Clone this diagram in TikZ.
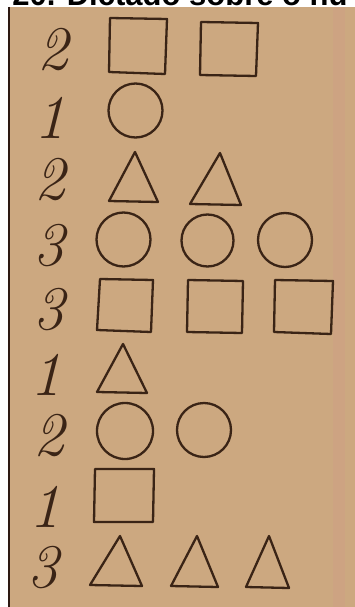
\documentclass[tikz,border=0pt]{standalone}
\usepackage{fontspec}
\newfontfamily\headfont{Liberation Sans}
\begin{document}
\begin{tikzpicture}[x=1pt,y=-1pt,
  ink/.style={draw=inkc,line width=2.3pt,line join=round,line cap=round},
  numeral/.style={text=inkc,font=\fontsize{62}{62}\selectfont\itshape,anchor=center,inner sep=0pt}]
\definecolor{paper}{RGB}{204,168,128}
\definecolor{paperr}{RGB}{206,160,132}
\definecolor{inkc}{RGB}{58,36,22}
\definecolor{edge}{RGB}{45,25,18}
\useasboundingbox (0,0) rectangle (355,607);
\fill[white] (0,0) rectangle (355,607);
% paper
\fill[paper] (9,7) rectangle (355,607);
\fill[paperr,opacity=0.6] (333,7) rectangle (345,607);
\draw[edge,line width=2pt] (9,7) -- (9,607);
% clipped heading
\begin{scope}
\clip (0,0) rectangle (355,7);
\node[anchor=base west,inner sep=0pt,font=\headfont\bfseries\fontsize{31}{31}\selectfont] (head) at (-8,6) {. 20. Dictado sobre o nu};
\end{scope}
% numerals
\node[numeral] (n1) at (53,50) {2};
\node[numeral] (n2) at (50,118) {1};
\node[numeral] (n3) at (50,180) {2};
\node[numeral] (n4) at (49,246) {3};
\node[numeral] (n5) at (49,310) {3};
\node[numeral] (n6) at (46,375) {1};
\node[numeral] (n7) at (49,436) {2};
\node[numeral] (n8) at (45,507) {1};
\node[numeral] (n9) at (43,568) {3};
% row 1 squares
\draw[ink] (110,18) -- (167,19) -- (165,74) -- (109,72) -- cycle;
\draw[ink] (201,22) -- (258,23) -- (256,76) -- (200,75) -- cycle;
% row 2 circle
\draw[ink] (135.5,110.5) circle (27);
% row 3 triangles
\draw[ink] (135,152) -- (158,202) -- (109,201) -- cycle;
\draw[ink] (220,153) -- (241,205) -- (190,204) -- cycle;
% row 4 circles
\draw[ink] (123.5,239.5) circle (27);
\draw[ink] (207.5,240.5) circle (26);
\draw[ink] (285,240) circle (27);
% row 5 squares
\draw[ink] (100,279) -- (153,280) -- (151,332) -- (97,330) -- cycle;
\draw[ink] (188,280) -- (243,281) -- (242,333) -- (187,332) -- cycle;
\draw[ink] (275,280) -- (333,281) -- (331,334) -- (274,332) -- cycle;
% row 6 triangle
\draw[ink] (123,344) -- (147,393) -- (97,392) -- cycle;
% row 7 circles
\draw[ink] (125,431) circle (28);
\draw[ink] (204,430) circle (27);
% row 8 square
\draw[ink] (95,469) -- (154,469) -- (153,522) -- (94,522) -- cycle;
% row 9 triangles
\draw[ink] (120,536) -- (142,586) -- (90,585) -- cycle;
\draw[ink] (197,536) -- (218,587) -- (171,586) -- cycle;
\draw[ink] (269,536) -- (289,588) -- (246,587) -- cycle;
\end{tikzpicture}
\end{document}
